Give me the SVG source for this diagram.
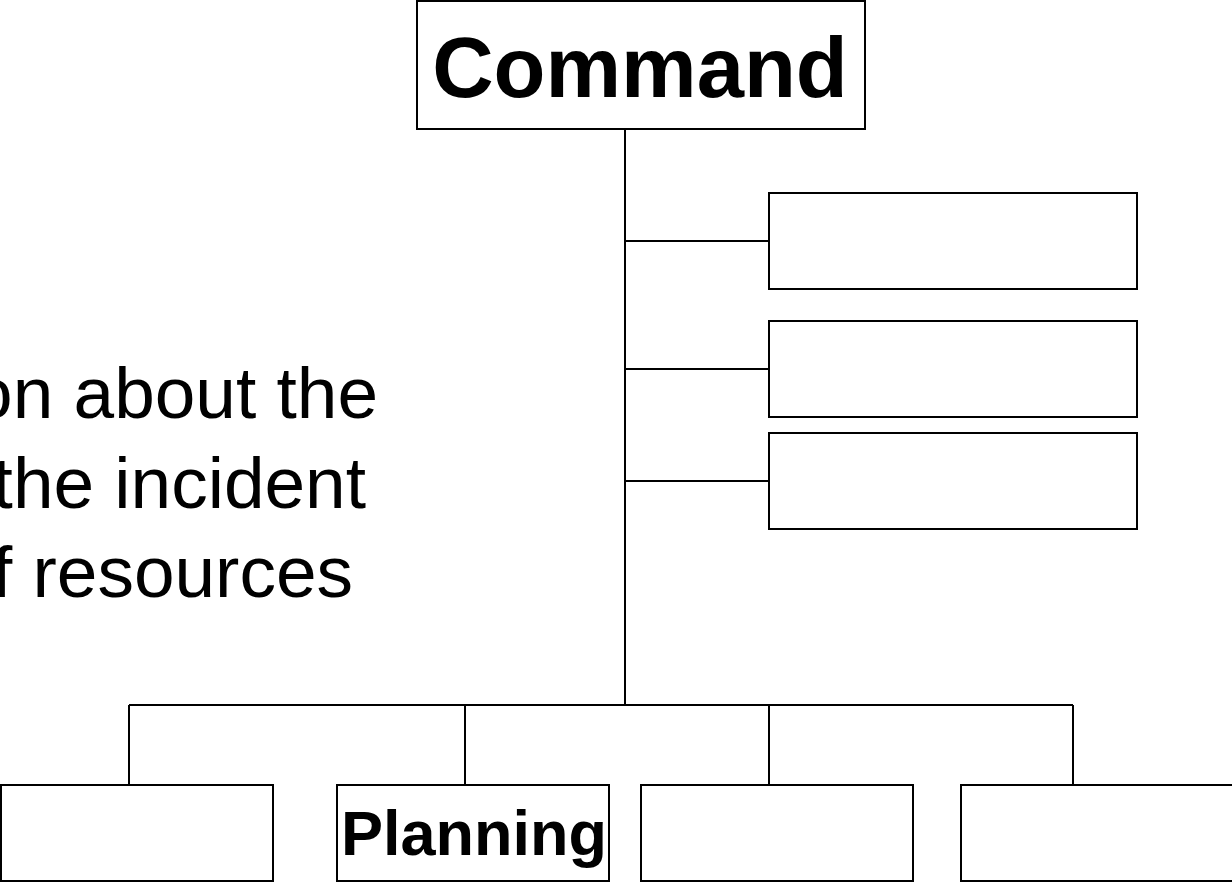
<svg xmlns="http://www.w3.org/2000/svg" width="1232" height="882" viewBox="0 0 1232 882">
  <style>
    .box { fill: #ffffff; stroke: #000000; stroke-width: 2; }
    .wire { fill: none; stroke: #000000; stroke-width: 2; }
    .title { font-family: "Liberation Sans", Arial, sans-serif; font-weight: bold; fill: #000000; text-anchor: middle; }
    .note { font-family: "Liberation Sans", Arial, sans-serif; font-size: 73px; fill: #000000; text-anchor: end; }
  </style>
  <rect width="1232" height="882" fill="#ffffff"/>

  <!-- side note text -->
  <g id="note">
    <text class="note" x="378" y="418">on about the</text>
    <text class="note" x="366" y="508">the incident</text>
    <text class="note" x="353" y="597">f resources</text>
  </g>

  <!-- connectors -->
  <g id="connectors">
    <line class="wire" x1="625" y1="129" x2="625" y2="705"/>
    <line class="wire" x1="625" y1="241" x2="769" y2="241"/>
    <line class="wire" x1="625" y1="369" x2="769" y2="369"/>
    <line class="wire" x1="625" y1="481" x2="769" y2="481"/>
    <line class="wire" x1="129" y1="705" x2="1073" y2="705"/>
    <line class="wire" x1="129" y1="705" x2="129" y2="785"/>
    <line class="wire" x1="465" y1="705" x2="465" y2="785"/>
    <line class="wire" x1="769" y1="705" x2="769" y2="785"/>
    <line class="wire" x1="1073" y1="705" x2="1073" y2="785"/>
  </g>

  <g id="command">
    <rect class="box" x="417" y="1" width="448" height="128"/>
    <text class="title" x="640" y="97" font-size="85">Command</text>
  </g>

  <g id="staff-1"><rect class="box" x="769" y="193" width="368" height="96"/></g>
  <g id="staff-2"><rect class="box" x="769" y="321" width="368" height="96"/></g>
  <g id="staff-3"><rect class="box" x="769" y="433" width="368" height="96"/></g>

  <g id="section-1"><rect class="box" x="1" y="785" width="272" height="96"/></g>
  <g id="planning">
    <rect class="box" x="337" y="785" width="272" height="96"/>
    <text class="title" x="474" y="855" font-size="63">Planning</text>
  </g>
  <g id="section-3"><rect class="box" x="641" y="785" width="272" height="96"/></g>
  <g id="section-4"><rect class="box" x="961" y="785" width="280" height="96"/></g>
</svg>
